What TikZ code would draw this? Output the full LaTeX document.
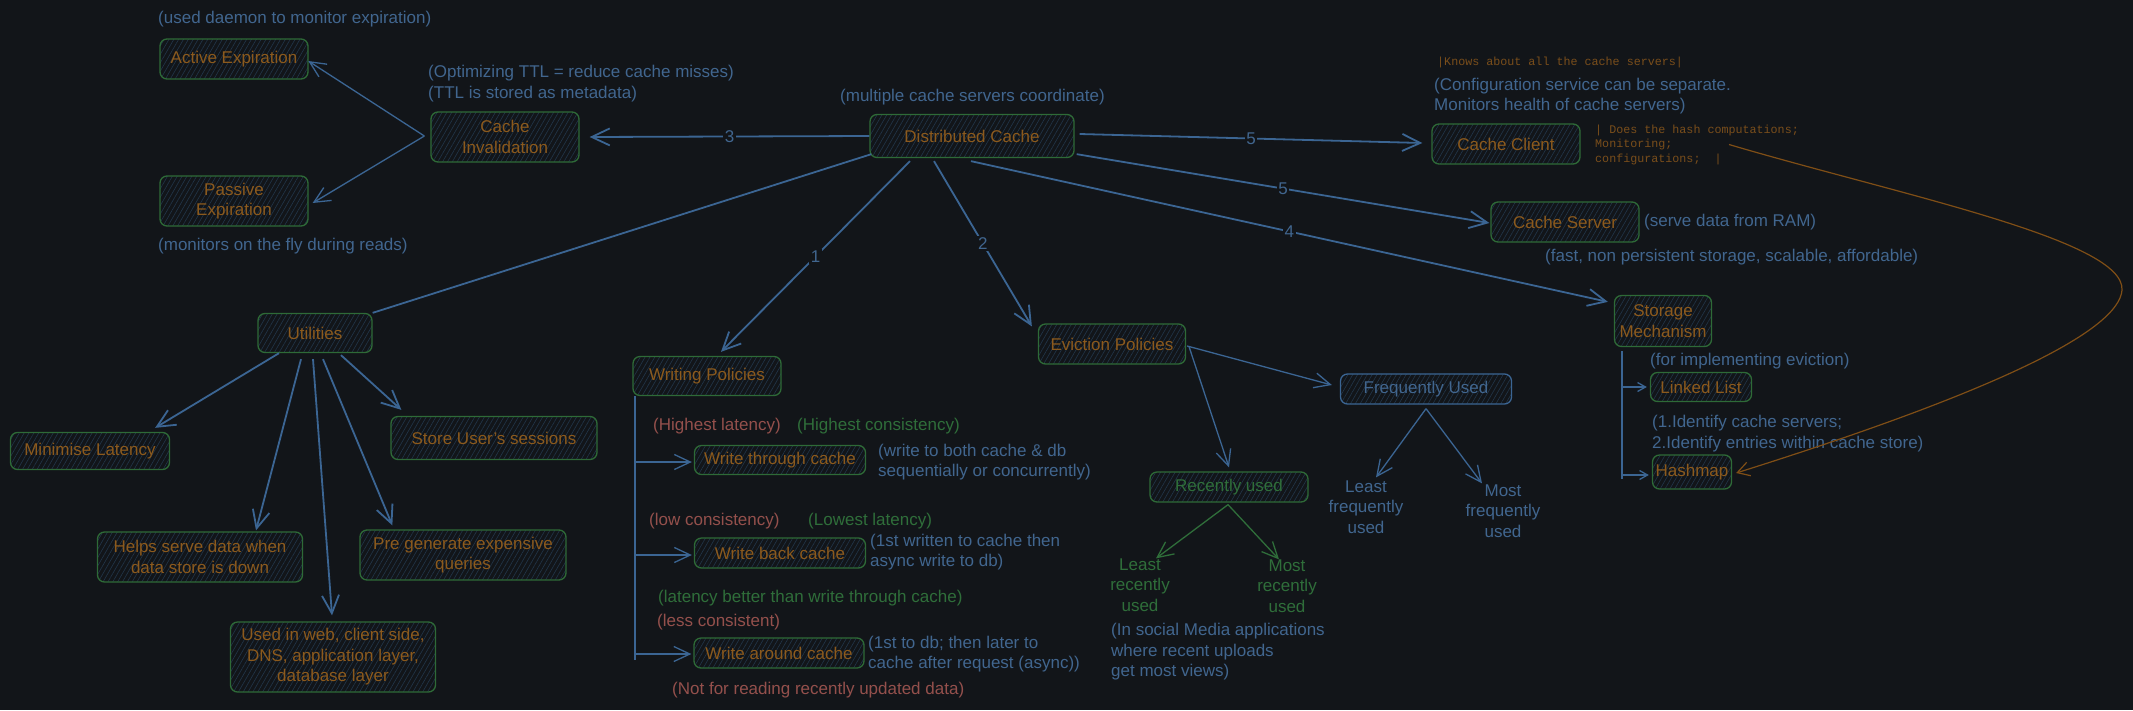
\documentclass[tikz,border=0pt]{standalone}
\usepackage{fontspec}
\setmainfont{Liberation Sans}
\setmonofont{Liberation Mono}
\usetikzlibrary{arrows.meta,patterns.meta,calc}
\definecolor{bgc}{HTML}{121519}
\definecolor{boxg}{HTML}{2E6A37}
\definecolor{boxo}{HTML}{8C5A1D}
\definecolor{hatchc}{HTML}{22364A}
\definecolor{blu}{HTML}{3B6593}
\definecolor{blut}{HTML}{41668F}
\definecolor{redt}{HTML}{94504C}
\definecolor{grnt}{HTML}{2F6E3A}
\definecolor{monoc}{HTML}{7A4E1B}
\definecolor{orc}{HTML}{7F4E16}
\newcommand\annfont{\fontsize{17}{20.5}\selectfont}
\newcommand\monofnt{\fontsize{11.7}{14.5}\selectfont\ttfamily}
\tikzset{
  box/.style={draw=boxg, line width=1.3pt, rounded corners=7pt,
    pattern={Lines[angle=60,distance=4.2pt,line width=0.6pt]}, pattern color=hatchc,
    text=boxo, align=center, inner sep=0pt, font=\annfont},
  bsz/.style 2 args={minimum width=#1pt, minimum height=#2pt},
  ann/.style={text=blut, font=\annfont, inner sep=0pt, anchor=west, align=left},
  annc/.style={text=blut, font=\annfont, inner sep=0pt, align=center},
  monot/.style={text=monoc, font=\monofnt, inner sep=0pt, anchor=west, align=left},
  lbl/.style={fill=bgc, text=blut, font=\annfont, inner sep=1.5pt},
  ln/.style={draw=blu, line width=1.8pt},
  arrb/.style={draw=blu, line width=1.8pt, -{Straight Barb[length=18pt,width=17pt]}},
  arrm/.style={draw=blu, line width=1.3pt, -{Straight Barb[length=16pt,width=15pt]}},
  arrs/.style={draw=blu, line width=1.3pt, -{Straight Barb[length=8pt,width=9pt]}},
  arrg/.style={draw=grnt, line width=1.3pt, -{Straight Barb[length=16pt,width=15pt]}},
  arro/.style={draw=orc, line width=1.2pt, -{Straight Barb[length=12pt,width=14pt]}},
}
\begin{document}
\begin{tikzpicture}[x=1pt,y=-1pt]
\fill[bgc] (0,0) rectangle (2133,710);
\path[use as bounding box] (0,0) rectangle (2133,710);

% ---------- boxes ----------
\node[box,bsz={148}{40}] (ae) at (234,59) {Active Expiration};
\node[box,bsz={148}{50}] (ci) at (505,137) {Cache\\Invalidation};
\node[box,bsz={148}{50}] (pe) at (234,201) {Passive\\Expiration};
\node[box,bsz={204}{43}] (dc) at (972,136) {Distributed Cache};
\node[box,bsz={148}{40}] (cc) at (1506,144) {Cache Client};
\node[box,bsz={148}{40}] (cs) at (1565,222) {Cache Server};
\node[box,bsz={97}{51}] (sm) at (1663,321) {Storage\\Mechanism};
\node[box,bsz={101}{29}] (ll) at (1701,387) {Linked List};
\node[box,bsz={79}{34}] (hm) at (1692,472) {Hashmap};
\node[box,bsz={114}{39}] (ut) at (315,333) {Utilities};
\node[box,bsz={159}{37}] (ml) at (90,451) {Minimise Latency};
\node[box,bsz={206}{43}] (su) at (494,438) {Store User's sessions};
\node[box,bsz={205}{50}] (hs) at (200,557) {Helps serve data when\\data store is down};
\node[box,bsz={206}{50}] (pg) at (463,555) {Pre generate expensive\\queries};
\node[box,bsz={205}{70}] (uw) at (333,657) {Used in web, client side,\\DNS, application layer,\\database layer};
\node[box,bsz={148}{39}] (wp) at (707,376) {Writing Policies};
\node[box,bsz={171}{29}] (wt) at (780,460) {Write through cache};
\node[box,bsz={171}{30}] (wb) at (780,553) {Write back cache};
\node[box,bsz={170}{30}] (wa) at (779,653) {Write around cache};
\node[box,bsz={147}{40}] (ep) at (1112,344) {Eviction Policies};
\node[box,bsz={171}{30},draw=blu,text=blut] (fu) at (1426,389) {Frequently Used};
\node[box,bsz={158}{30},text=grnt] (ru) at (1229,487) {Recently used};

% ---------- annotations ----------
\node[ann] (tdaemon) at (158,19) {(used daemon to monitor expiration)};
\node[ann] (tttl) at (428,83.5) {(Optimizing TTL = reduce cache misses)\\(TTL is stored as metadata)};
\node[ann] (tfly) at (158,246) {(monitors on the fly during reads)};
\node[ann] (tmulti) at (840,97) {(multiple cache servers coordinate)};
\node[monot] (tknows) at (1437,62) {|Knows about all the cache servers|};
\node[ann] (tconf) at (1434,96) {(Configuration service can be separate.\\Monitors health of cache servers)};
\node[monot] (thash) at (1595,144.5) {| Does the hash computations;\\Monitoring;\\configurations;\ \ |};
\node[ann] (tram) at (1644,222) {(serve data from RAM)};
\node[ann] (tfast) at (1545,257) {(fast, non persistent storage, scalable, affordable)};
\node[ann] (tevict) at (1650,361) {(for implementing eviction)};
\node[ann] (tident) at (1652,433.5) {(1.Identify cache servers;\\2.Identify entries within cache store)};
\node[annc] (lfu) at (1366,507) {Least\\frequently\\used};
\node[annc] (mfu) at (1503,511) {Most\\frequently\\used};
\node[annc,text=grnt] (lru) at (1140,585) {Least\\recently\\used};
\node[annc,text=grnt] (mru) at (1287,586) {Most\\recently\\used};
\node[ann] (tsocial) at (1111,652) {(In social Media applications\\where recent uploads\\get most views)};
\node[ann,text=redt] (thl) at (653,426) {(Highest latency)};
\node[ann,text=grnt] (thc) at (797,426) {(Highest consistency)};
\node[ann] (tboth) at (878,462) {(write to both cache \& db\\sequentially or concurrently)};
\node[ann,text=redt] (tlc) at (649,521) {(low consistency)};
\node[ann,text=grnt] (tll) at (808,521) {(Lowest latency)};
\node[ann] (tfirst) at (870,552) {(1st written to cache then\\async write to db)};
\node[ann,text=grnt] (tlb) at (658,598) {(latency better than write through cache)};
\node[ann,text=redt] (tless) at (657,622) {(less consistent)};
\node[ann] (tdb) at (868,654) {(1st to db; then later to\\cache after request (async))};
\node[ann,text=redt] (tnot) at (672,690) {(Not for reading recently updated data)};

% ---------- connectors from Distributed Cache ----------
\draw[arrb] (dc.west) -- node[lbl]{3} ($(ci.east)+(10,0)$);
\draw[arrb] ($(dc.east)+(5,-2)$) -- node[lbl]{5} ($(cc.west)+(-9,-1)$);
\draw[arrb] ($(dc.south east)+(2,-4)$) -- node[lbl]{5} ($(cs.west)+(-1,1)$);
\draw[arrb] ($(dc.south)+(-1,3)$) -- node[lbl]{4} ($(sm.north west)+(-6,7)$);
\draw[arrb] ($(dc.south)+(-38,3)$) -- node[lbl]{2} ($(ep.north west)+(-6,3)$);
\draw[arrb] ($(dc.south)+(-62,3)$) -- node[lbl]{1} ($(wp.north)+(14,-4)$);
\draw[ln] ($(dc.south west)+(2,-4)$) -- (ut.north east);

% ---------- Cache invalidation ----------
\coordinate (cif) at ($(ci.west)+(-6,-1)$);
\draw[arrm] (cif) -- ($(ae.east)+(0,2)$);
\draw[arrm] (cif) -- ($(pe.east)+(4,2)$);

% ---------- Utilities ----------
\draw[arrb] ($(ut.south)+(-36,0)$) -- ($(ml.north east)+(-15,-4)$);
\draw[arrb] ($(ut.south)+(-14,6)$) -- ($(hs.north)+(56,-1)$);
\draw[arrb] ($(ut.south)+(-2,6)$) -- ($(uw.north)+(-1,-6)$);
\draw[arrb] ($(ut.south)+(8,6)$) -- ($(pg.north west)+(33,-4)$);
\draw[arrb] ($(ut.south)+(26,2)$) -- ($(su.north west)+(11,-6)$);

% ---------- Writing policies ----------
\coordinate (wpt) at ($(wp.south west)+(3,0)$);
\draw[ln] (wpt) -- ($(wpt)+(0,264)$);
\draw[arrm] ($(wpt |- wt.west)+(0,2)$) -- ($(wt.west)+(-2,2)$);
\draw[arrm] ($(wpt |- wb.west)+(0,2)$) -- ($(wb.west)+(-2,2)$);
\draw[arrm] ($(wpt |- wa.west)+(0,1)$) -- ($(wa.west)+(-2,1)$);

% ---------- Eviction ----------
\draw[arrm] ($(ep.east)+(1,2)$) -- ($(fu.west)+(-8,-4)$);
\draw[arrm] ($(ep.east)+(3,3)$) -- ($(ru.north)+(0,-4)$);
\coordinate (fuf) at ($(fu.south)+(0,4)$);
\draw[arrm] (fuf) -- ($(lfu.north)+(10,-3)$);
\draw[arrm] (fuf) -- ($(mfu.north)+(-21,-1)$);
\coordinate (ruf) at ($(ru.south)+(-1,2)$);
\draw[arrg] (ruf) -- ($(lru.north)+(16,0)$);
\draw[arrg] (ruf) -- ($(mru.north)+(-8,0)$);

% ---------- Storage mechanism ----------
\coordinate (smt) at ($(sm.south west)+(8,4)$);
\draw[draw=blu,line width=1.3pt] (smt) -- ($(smt)+(0,128)$);
\draw[arrs] (smt |- ll.west) -- ($(ll.west)+(-3,0)$);
\draw[arrs] ($(smt |- hm.west)+(0,3)$) -- ($(hm.west)+(-3,3)$);

% ---------- orange curve ----------
\draw[arro] ($(thash.west)+(134,0)$) .. controls (1900,195) and (2125,240) .. (2122,290)
   .. controls (2119,330) and (2000,390) .. ($(hm.east)+(4,1)$);
\end{tikzpicture}
\end{document}
